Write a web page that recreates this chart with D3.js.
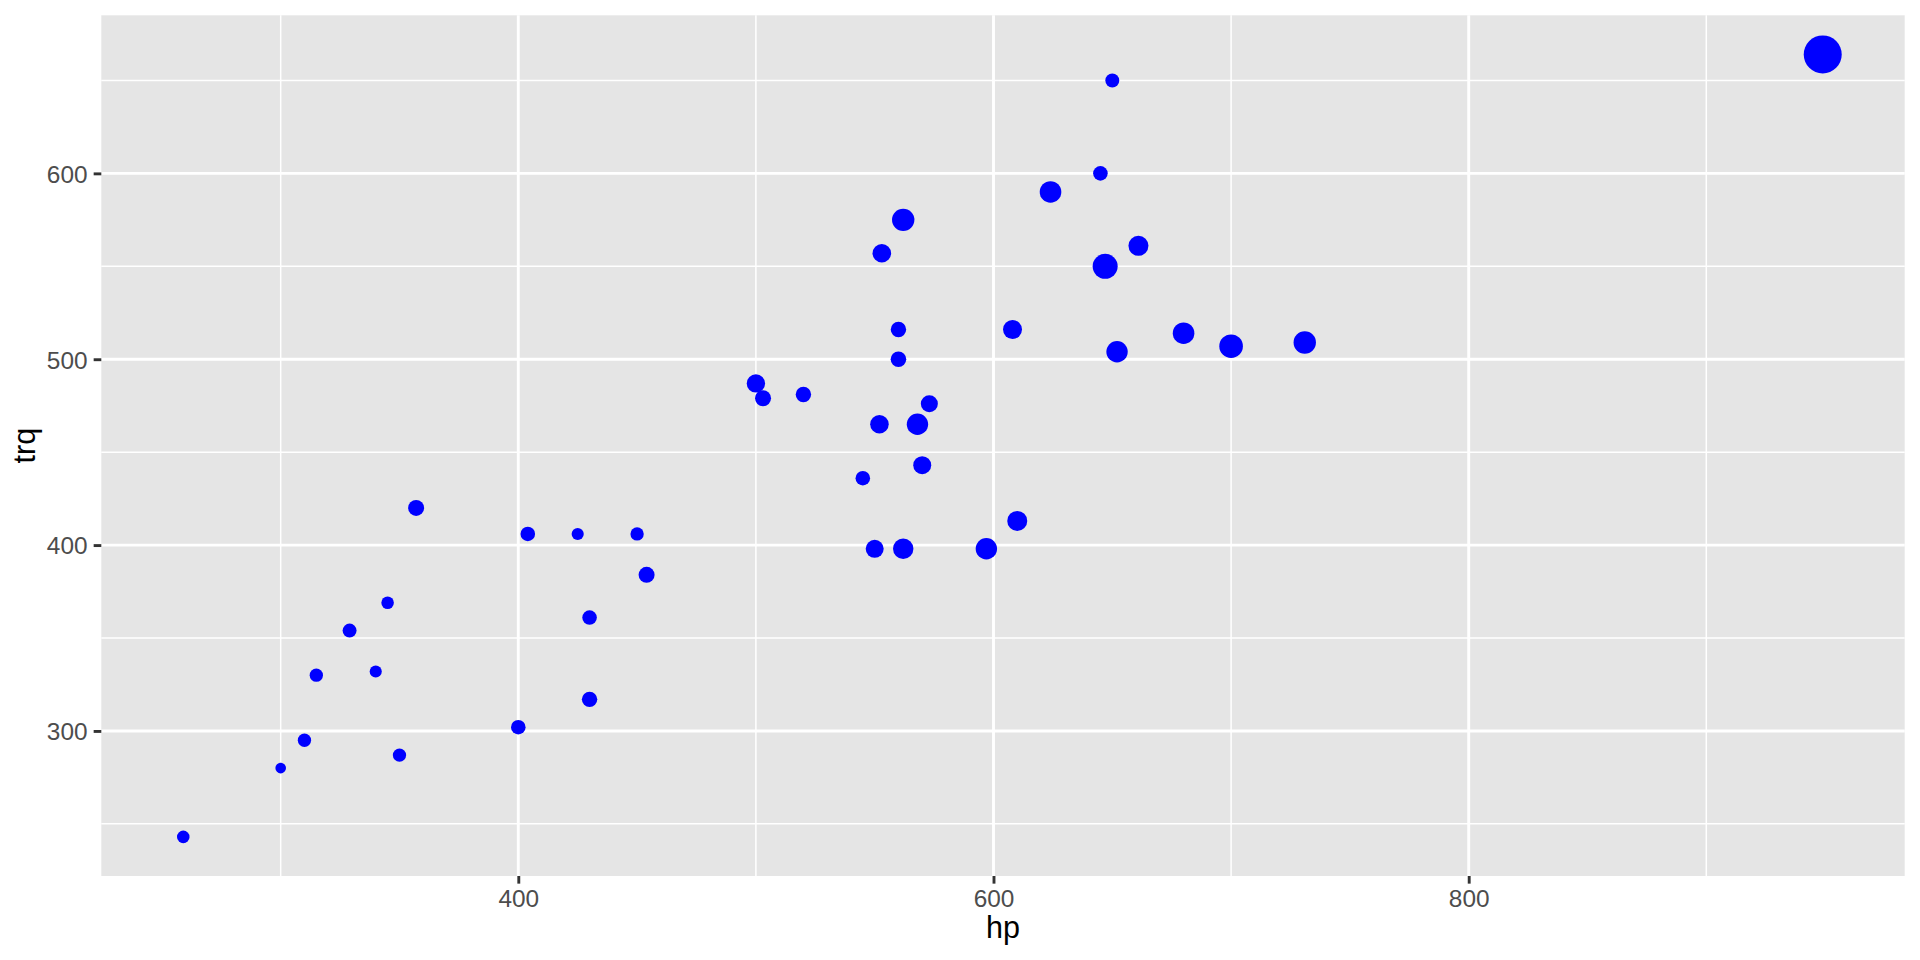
<!DOCTYPE html>
<html><head><meta charset="utf-8">
<script src="https://cdn.jsdelivr.net/npm/d3@7"></script>
<style>html,body{margin:0;padding:0;background:#fff;} svg{display:block}</style>
</head><body>
<script>
// ---- data ----
const hp  = [259,300,310,315,329,340,345,350,357,400,404,425,430,430,450,454,500,503,520,545,550,552,553,562,560,560,562,568,570,573,597,608,610,624,645,647,650,652,661,680,700,731,949];
const trq = [243,280,295,330,354,332,369,287,420,302,406,406,361,317,406,384,487,479,481,436,398,465,557,575,516,500,398,465,443,476,398,516,413,590,600,550,650,504,561,514,507,509,664];
// relative size variable (0 = smallest, 100 = largest)
const sizeVar = [0.5,0,1.0,1.0,1.5,0.3,0.5,1.0,3.9,2.1,2.1,0.3,2.1,3.1,1.0,3.9,8.1,3.9,3.1,2.1,7.3,8.5,8.5,18.5,3.1,3.3,12.8,15.5,7.3,5.5,15.5,9.4,11.8,16.1,2.1,27.6,1.5,15.5,11.8,16.1,22.5,18.5,100];
const xTicks = [400,600,800];
const xMinor = [300,500,700,900];
const yTicks = [300,400,500,600];
const yMinor = [250,350,450,550,650];
const xTitle = "hp", yTitle = "trq";

const data = hp.map((d,i)=>({hp:d, trq:trq[i], s:sizeVar[i]}));

const W = 1920, H = 960;
const P = {left:101.3, right:1904.7, top:15.3, bottom:876};

function expand(ext){ const r = ext[1]-ext[0]; return [ext[0]-0.05*r, ext[1]+0.05*r]; }
const x = d3.scaleLinear().domain(expand(d3.extent(hp))).range([P.left, P.right]);
const y = d3.scaleLinear().domain(expand(d3.extent(trq))).range([P.bottom, P.top]);
const r = d3.scalePow().exponent(0.5).domain(d3.extent(sizeVar)).range([5.3, 19]);

const svg = d3.select("body").append("svg").attr("width", W).attr("height", H);
svg.append("rect").attr("width", W).attr("height", H).attr("fill", "#fff");

svg.append("rect").attr("x", P.left).attr("y", P.top)
  .attr("width", P.right-P.left).attr("height", P.bottom-P.top).attr("fill", "#E5E5E5");

const grid = svg.append("g");
grid.selectAll(".ymin").data(yMinor).join("line")
  .attr("x1", P.left).attr("x2", P.right).attr("y1", d=>y(d)).attr("y2", d=>y(d))
  .attr("stroke", "#fff").attr("stroke-width", 1.5);
grid.selectAll(".xmin").data(xMinor).join("line")
  .attr("y1", P.top).attr("y2", P.bottom).attr("x1", d=>x(d)).attr("x2", d=>x(d))
  .attr("stroke", "#fff").attr("stroke-width", 1.5);
grid.selectAll(".ymaj").data(yTicks).join("line")
  .attr("x1", P.left).attr("x2", P.right).attr("y1", d=>y(d)).attr("y2", d=>y(d))
  .attr("stroke", "#fff").attr("stroke-width", 2.9);
grid.selectAll(".xmaj").data(xTicks).join("line")
  .attr("y1", P.top).attr("y2", P.bottom).attr("x1", d=>x(d)).attr("x2", d=>x(d))
  .attr("stroke", "#fff").attr("stroke-width", 2.9);

// axes via d3 axis generators
const xAxis = d3.axisBottom(x).tickValues(xTicks).tickSize(7.64).tickPadding(6.1).tickFormat(d3.format("d"));
const yAxis = d3.axisLeft(y).tickValues(yTicks).tickSize(7.64).tickPadding(6.1).tickFormat(d3.format("d"));
const gx = svg.append("g").attr("transform", `translate(0,${P.bottom})`).call(xAxis);
const gy = svg.append("g").attr("transform", `translate(${P.left},0)`).call(yAxis);
[gx, gy].forEach(g=>{
  g.select(".domain").remove();
  g.selectAll(".tick line").attr("stroke", "#333333").attr("stroke-width", 2.9);
  g.selectAll(".tick text").attr("fill", "#4D4D4D")
    .style("font-family", "'Liberation Sans', Arial, sans-serif").style("font-size", "24.4px");
});
gx.selectAll(".tick text").attr("dy", "0.72em");
gy.selectAll(".tick text").attr("dy", "0.36em");

// points
svg.append("g").selectAll("circle").data(data).join("circle")
  .attr("cx", d=>x(d.hp)).attr("cy", d=>y(d.trq)).attr("r", d=>r(d.s))
  .attr("fill", "#0000FF");

// titles
svg.append("text").attr("x", (P.left+P.right)/2).attr("y", 938)
  .attr("text-anchor", "middle").attr("fill", "#000")
  .style("font-family", "'Liberation Sans', Arial, sans-serif").style("font-size", "30.5px")
  .text(xTitle);
svg.append("text").attr("transform", `translate(35,${(P.top+P.bottom)/2}) rotate(-90)`)
  .attr("text-anchor", "middle").attr("fill", "#000")
  .style("font-family", "'Liberation Sans', Arial, sans-serif").style("font-size", "30.5px")
  .text(yTitle);
</script>
</body></html>
